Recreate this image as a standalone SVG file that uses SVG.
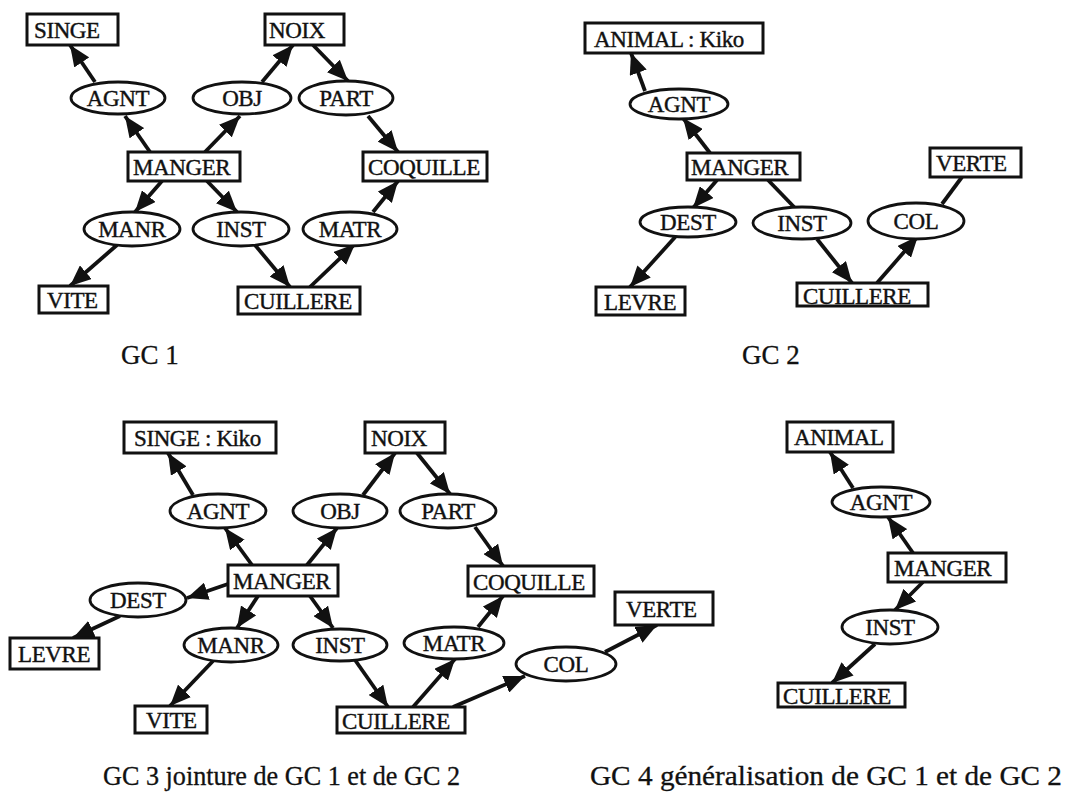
<svg xmlns="http://www.w3.org/2000/svg" width="1067" height="802" viewBox="0 0 1067 802">
<defs>
<marker id="ah" markerUnits="userSpaceOnUse" markerWidth="22" markerHeight="18" refX="21" refY="9" orient="auto">
<path d="M0,0 L21,9 L0,18 z" fill="#111"/>
</marker>
<style>
rect{fill:#fff;stroke:#111;stroke-width:3}
ellipse{fill:#fff;stroke:#111;stroke-width:2.8}
text{font-family:"Liberation Serif","Times New Roman",serif;font-size:23px;fill:#111;stroke:#111;stroke-width:0.4;letter-spacing:-0.4px}
.e{text-anchor:middle}
.cap{font-size:27px;stroke-width:0.3;letter-spacing:0}
#connectors line{stroke:#111;stroke-width:3.8;fill:none}
#connectors line.a{marker-end:url(#ah)}
</style>
</defs>
<rect x="0" y="0" width="1067" height="802" style="fill:#fff;stroke:none"/>

<g id="connectors">
<!-- GC1 -->
<line class="a" x1="95" y1="82" x2="70" y2="45"/>
<line class="a" x1="150" y1="152" x2="125" y2="116"/>
<line class="a" x1="205" y1="152" x2="240" y2="116"/>
<line class="a" x1="262" y1="82" x2="293" y2="45"/>
<line class="a" x1="313" y1="45" x2="348" y2="81"/>
<line class="a" x1="368" y1="116" x2="398" y2="152"/>
<line class="a" x1="162" y1="181" x2="135" y2="212"/>
<line class="a" x1="207" y1="181" x2="237" y2="212"/>
<line class="a" x1="117" y1="245" x2="70" y2="286"/>
<line class="a" x1="255" y1="245" x2="290" y2="287"/>
<line class="a" x1="310" y1="287" x2="355" y2="244"/>
<line class="a" x1="373" y1="212" x2="398" y2="181"/>
<!-- GC2 -->
<line class="a" x1="645" y1="91" x2="631" y2="53"/>
<line class="a" x1="710" y1="153" x2="683" y2="118"/>
<line class="a" x1="717" y1="180" x2="693" y2="208"/>
<line x1="768" y1="180" x2="795" y2="208"/>
<line class="a" x1="677" y1="235" x2="630" y2="287"/>
<line class="a" x1="817" y1="239" x2="852" y2="283"/>
<line class="a" x1="877" y1="283" x2="918" y2="236"/>
<line x1="942" y1="204" x2="962" y2="177"/>
<!-- GC3 -->
<line class="a" x1="193" y1="495" x2="168" y2="453"/>
<line class="a" x1="252" y1="565" x2="225" y2="528"/>
<line class="a" x1="307" y1="565" x2="337" y2="528"/>
<line class="a" x1="363" y1="495" x2="395" y2="453"/>
<line class="a" x1="417" y1="453" x2="450" y2="494"/>
<line class="a" x1="475" y1="527" x2="503" y2="566"/>
<line class="a" x1="228" y1="584" x2="187" y2="598"/>
<line class="a" x1="120" y1="616" x2="73" y2="638"/>
<line class="a" x1="258" y1="596" x2="237" y2="628"/>
<line class="a" x1="310" y1="596" x2="333" y2="628"/>
<line class="a" x1="213" y1="661" x2="170" y2="706"/>
<line class="a" x1="355" y1="660" x2="388" y2="707"/>
<line class="a" x1="413" y1="707" x2="455" y2="659"/>
<line class="a" x1="478" y1="627" x2="503" y2="596"/>
<line class="a" x1="453" y1="707" x2="525" y2="676"/>
<line class="a" x1="605" y1="652" x2="657" y2="625"/>
<!-- GC4 -->
<line class="a" x1="853" y1="488" x2="830" y2="452"/>
<line class="a" x1="913" y1="553" x2="888" y2="517"/>
<line class="a" x1="923" y1="582" x2="895" y2="610"/>
<line class="a" x1="875" y1="644" x2="832" y2="683"/>
</g>

<!-- GC1 nodes -->
<g id="gc1-singe"><rect x="27" y="14" width="91" height="31"/><text x="34" y="38">SINGE</text></g>
<g id="gc1-noix"><rect x="265" y="14" width="79" height="31"/><text x="269" y="38">NOIX</text></g>
<g id="gc1-agnt"><ellipse cx="118" cy="98" rx="47" ry="16"/><text class="e" x="118" y="106">AGNT</text></g>
<g id="gc1-obj"><ellipse cx="242" cy="98" rx="49" ry="16"/><text class="e" x="242" y="106">OBJ</text></g>
<g id="gc1-part"><ellipse cx="346" cy="98" rx="47" ry="17"/><text class="e" x="346" y="106">PART</text></g>
<g id="gc1-manger"><rect x="128" y="152" width="112" height="29"/><text x="133" y="175">MANGER</text></g>
<g id="gc1-coquille"><rect x="363" y="152" width="124" height="29"/><text x="368" y="175">COQUILLE</text></g>
<g id="gc1-manr"><ellipse cx="132" cy="229" rx="48" ry="17"/><text class="e" x="132" y="237">MANR</text></g>
<g id="gc1-inst"><ellipse cx="241" cy="229" rx="48" ry="17"/><text class="e" x="241" y="237">INST</text></g>
<g id="gc1-matr"><ellipse cx="350" cy="229" rx="47" ry="17"/><text class="e" x="350" y="237">MATR</text></g>
<g id="gc1-vite"><rect x="39" y="286" width="69" height="27"/><text x="47" y="308">VITE</text></g>
<g id="gc1-cuillere"><rect x="238" y="287" width="122" height="27"/><text x="244" y="309">CUILLERE</text></g>

<!-- GC2 nodes -->
<g id="gc2-animal"><rect x="585" y="23" width="178" height="30"/><text x="594" y="47">ANIMAL : Kiko</text></g>
<g id="gc2-agnt"><ellipse cx="679" cy="104" rx="49" ry="15"/><text class="e" x="679" y="112">AGNT</text></g>
<g id="gc2-manger"><rect x="687" y="153" width="113" height="27"/><text x="691" y="175">MANGER</text></g>
<g id="gc2-verte"><rect x="930" y="148" width="91" height="29"/><text x="936" y="171">VERTE</text></g>
<g id="gc2-dest"><ellipse cx="688" cy="222" rx="48" ry="15"/><text class="e" x="688" y="230">DEST</text></g>
<g id="gc2-inst"><ellipse cx="802" cy="223" rx="49" ry="16"/><text class="e" x="802" y="231">INST</text></g>
<g id="gc2-col"><ellipse cx="916" cy="221" rx="48" ry="18"/><text class="e" x="916" y="229">COL</text></g>
<g id="gc2-levre"><rect x="596" y="287" width="89" height="28"/><text x="604" y="310">LEVRE</text></g>
<g id="gc2-cuillere"><rect x="797" y="283" width="131" height="23"/><text x="803" y="304">CUILLERE</text></g>

<!-- GC3 nodes -->
<g id="gc3-singe"><rect x="124" y="422" width="152" height="31"/><text x="134" y="446">SINGE : Kiko</text></g>
<g id="gc3-noix"><rect x="365" y="422" width="80" height="31"/><text x="371" y="446">NOIX</text></g>
<g id="gc3-agnt"><ellipse cx="218" cy="511" rx="48" ry="17"/><text class="e" x="218" y="519">AGNT</text></g>
<g id="gc3-obj"><ellipse cx="340" cy="511" rx="47" ry="17"/><text class="e" x="340" y="519">OBJ</text></g>
<g id="gc3-part"><ellipse cx="448" cy="511" rx="48" ry="17"/><text class="e" x="448" y="519">PART</text></g>
<g id="gc3-manger"><rect x="228" y="565" width="110" height="31"/><text x="233" y="589">MANGER</text></g>
<g id="gc3-coquille"><rect x="468" y="566" width="126" height="30"/><text x="473" y="590">COQUILLE</text></g>
<g id="gc3-verte"><rect x="615" y="592" width="98" height="33"/><text x="626" y="617">VERTE</text></g>
<g id="gc3-dest"><ellipse cx="138" cy="600" rx="48" ry="17"/><text class="e" x="138" y="608">DEST</text></g>
<g id="gc3-levre"><rect x="10" y="638" width="89" height="31"/><text x="18" y="662">LEVRE</text></g>
<g id="gc3-manr"><ellipse cx="231" cy="645" rx="47" ry="17"/><text class="e" x="231" y="653">MANR</text></g>
<g id="gc3-inst"><ellipse cx="340" cy="645" rx="47" ry="16"/><text class="e" x="340" y="653">INST</text></g>
<g id="gc3-matr"><ellipse cx="454" cy="643" rx="50" ry="16"/><text class="e" x="454" y="651">MATR</text></g>
<g id="gc3-col"><ellipse cx="566" cy="664" rx="50" ry="17"/><text class="e" x="566" y="672">COL</text></g>
<g id="gc3-vite"><rect x="135" y="706" width="72" height="27"/><text x="146" y="728">VITE</text></g>
<g id="gc3-cuillere"><rect x="337" y="707" width="128" height="26"/><text x="342" y="729">CUILLERE</text></g>

<!-- GC4 nodes -->
<g id="gc4-animal"><rect x="787" y="422" width="106" height="30"/><text x="794" y="445">ANIMAL</text></g>
<g id="gc4-agnt"><ellipse cx="881" cy="502" rx="49" ry="15"/><text class="e" x="881" y="510">AGNT</text></g>
<g id="gc4-manger"><rect x="888" y="553" width="118" height="29"/><text x="894" y="576">MANGER</text></g>
<g id="gc4-inst"><ellipse cx="890" cy="627" rx="48" ry="17"/><text class="e" x="890" y="635">INST</text></g>
<g id="gc4-cuillere"><rect x="778" y="683" width="127" height="24"/><text x="783" y="704">CUILLERE</text></g>

<!-- captions -->
<g id="captions">
<text class="cap" x="121" y="364">GC 1</text>
<text class="cap" x="742" y="364">GC 2</text>
<text class="cap" x="103" y="785" textLength="357" lengthAdjust="spacingAndGlyphs">GC 3 jointure de GC 1 et de GC 2</text>
<text class="cap" x="590" y="785" textLength="472" lengthAdjust="spacingAndGlyphs">GC 4 généralisation de GC 1 et de GC 2</text>
</g>
</svg>
